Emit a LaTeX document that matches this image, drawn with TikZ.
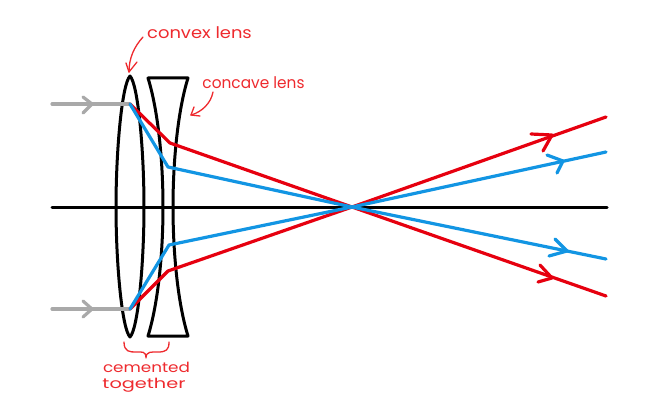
\documentclass[tikz,border=0pt]{standalone}
\usepackage{fontspec}
\setmainfont{Poppins}
\definecolor{rayred}{HTML}{E6000F}
\definecolor{rayblue}{HTML}{1295E3}
\definecolor{notered}{HTML}{EE2A2E}
\definecolor{raygray}{HTML}{A9A9A9}
\tikzset{
  lensline/.style={draw=black,line width=3pt,line join=round},
  axisline/.style={draw=black,line width=3pt,line cap=round},
  redray/.style={draw=rayred,line width=3.2pt,line cap=round,line join=round},
  blueray/.style={draw=rayblue,line width=3.2pt,line cap=round,line join=round},
  grayray/.style={draw=raygray,line width=3.2pt,line cap=round,line join=round},
  noteline/.style={draw=notered,line width=1.3pt,line cap=round,line join=round},
  notetext/.style={text=notered,font=\fontsize{16}{17}\selectfont,inner sep=0pt,anchor=center,transform shape},
  smallnote/.style={notetext,font=\fontsize{14}{15}\selectfont}
}
\begin{document}
\begin{tikzpicture}[x=1pt,y=-1pt]
\useasboundingbox (0,0) rectangle (660,409);
% named points
\coordinate (focus) at (352,207);
\coordinate (axisL) at (52,207);
\coordinate (axisR) at (607,207);
\coordinate (inT) at (52,104);
\coordinate (inB) at (52,309);
\coordinate (hitT) at (130,104);
\coordinate (hitB) at (130,309);
\coordinate (redT) at (170,143);
\coordinate (blueT) at (168,167);
\coordinate (blueB) at (169,245);
\coordinate (redB) at (168,271);
\coordinate (endRedUp) at (606,117);
\coordinate (endBlueUp) at (606,152);
\coordinate (endBlueDn) at (606,259);
\coordinate (endRedDn) at (606,296);
% lenses
\draw[lensline] (130,76) .. controls (122,84) and (116,150) .. (116,207)
  .. controls (116,264) and (122,329) .. (130,337)
  .. controls (138,329) and (144,264) .. (144,207)
  .. controls (144,150) and (138,84) .. (130,76) -- cycle;
\draw[lensline] (148,78) -- (188,78)
  .. controls (178,110) and (173,160) .. (173,207)
  .. controls (173,254) and (178,304) .. (188,336)
  -- (148,336)
  .. controls (158,304) and (163,254) .. (163,207)
  .. controls (163,160) and (158,110) .. (148,78) -- cycle;
% axis
\draw[axisline] (axisL) -- (axisR);
% incoming rays
\draw[grayray] (inT) -- (hitT);
\draw[grayray] (83,97) -- (92,104) -- (83,113);
\draw[grayray] (inB) -- (hitB);
\draw[grayray] (83,301) -- (92,309) -- (83,317);
% rays
\draw[redray] (hitT) -- (redT) -- (focus) -- (endRedDn);
\draw[redray] (hitB) -- (redB) -- (focus) -- (endRedUp);
\draw[blueray] (hitT) -- (blueT) -- (focus) -- (endBlueDn);
\draw[blueray] (hitB) -- (blueB) -- (focus) -- (endBlueUp);
% arrow heads on rays
\draw[redray] (531,134) -- (552,135) -- (543,151);
\draw[redray] (540,265) -- (552,278) -- (538,282);
\draw[blueray] (547,155) -- (563,161) -- (557,173);
\draw[blueray] (555,239) -- (567,251) -- (549,256);
% annotations
\node[notetext,xscale=1.12] (convexlabel) at (199.5,33) {convex lens};
\node[notetext,xscale=0.96] (concavelabel) at (253.5,83) {concave lens};
\node[smallnote,xscale=1.2] (cementedlabel) at (146.5,367.5) {cemented};
\node[smallnote,xscale=1.38] (togetherlabel) at (144,385) {together};
\coordinate (convexTip) at (129,72);
\coordinate (concaveTip) at (191,115);
\draw[noteline] (143,37) .. controls (134,47) and (129,58) .. (convexTip);
\draw[noteline] (126,63) -- (convexTip) -- (137,62);
\draw[noteline] (213,92) .. controls (211,103) and (202,112) .. (concaveTip);
\draw[noteline] (194,107) -- (concaveTip) -- (200,116);
\draw[noteline] (124,342) .. controls (124,352) and (130,352) .. (136,352)
  .. controls (142,352) and (146,351) .. (146,358)
  .. controls (146,351) and (152,352) .. (158,352)
  .. controls (166,352) and (169,350) .. (169,342);
\end{tikzpicture}
\end{document}
